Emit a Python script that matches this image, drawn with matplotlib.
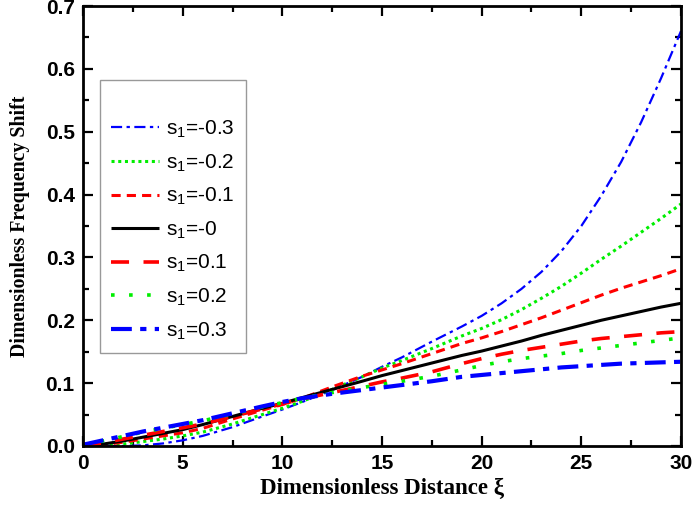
import numpy as np
import matplotlib
matplotlib.use('Agg')
import matplotlib.pyplot as plt

plt.rcParams['font.family'] = ['Liberation Sans', 'DejaVu Sans']
plt.rcParams['mathtext.default'] = 'regular'

# Curves (xi, frequency shift)
XI = [0, 1, 2, 3, 4, 5, 6, 7.5, 9, 10, 11, 12.5, 14, 15, 16, 17.5, 19, 20,
      21, 22, 23, 24, 25, 26, 27, 28, 29, 30]

Y_M03 = [0, 0, 0, 0.001, 0.004, 0.009, 0.016, 0.030, 0.047, 0.058, 0.070, 0.089, 0.110, 0.126,
         0.141, 0.166, 0.190, 0.207, 0.227, 0.250, 0.277, 0.310, 0.350, 0.398, 0.452, 0.515, 0.585, 0.660]
Y_M02 = [0, 0, 0.003, 0.007, 0.011, 0.016, 0.022, 0.035, 0.050, 0.060, 0.071, 0.090, 0.110, 0.124,
         0.136, 0.155, 0.175, 0.187, 0.201, 0.217, 0.235, 0.254, 0.275, 0.297, 0.318, 0.340, 0.362, 0.385]
Y_M01 = [0, 0.002, 0.006, 0.011, 0.016, 0.021, 0.028, 0.043, 0.057, 0.066, 0.076, 0.094, 0.111, 0.121,
         0.131, 0.147, 0.163, 0.172, 0.182, 0.193, 0.204, 0.216, 0.228, 0.240, 0.251, 0.261, 0.271, 0.282]
Y_0 = [0, 0.003, 0.008, 0.014, 0.020, 0.026, 0.034, 0.047, 0.060, 0.068, 0.077, 0.090, 0.103, 0.112,
       0.120, 0.132, 0.144, 0.151, 0.159, 0.167, 0.176, 0.184, 0.192, 0.200, 0.207, 0.214, 0.221, 0.227]
Y_P01 = [0, 0.005, 0.011, 0.017, 0.023, 0.029, 0.035, 0.047, 0.059, 0.067, 0.075, 0.085, 0.095, 0.102,
         0.108, 0.118, 0.131, 0.139, 0.146, 0.152, 0.157, 0.162, 0.167, 0.171, 0.174, 0.177, 0.180, 0.182]
Y_P02 = [0.001, 0.008, 0.015, 0.022, 0.028, 0.034, 0.040, 0.051, 0.062, 0.069, 0.076, 0.085, 0.093, 0.098,
         0.103, 0.111, 0.121, 0.128, 0.134, 0.139, 0.143, 0.147, 0.152, 0.156, 0.160, 0.164, 0.168, 0.172]
Y_P03 = [0.002, 0.009, 0.016, 0.023, 0.029, 0.035, 0.041, 0.052, 0.063, 0.070, 0.076, 0.083, 0.089, 0.093,
         0.097, 0.103, 0.110, 0.113, 0.116, 0.119, 0.122, 0.125, 0.127, 0.129, 0.131, 0.132, 0.133, 0.134]

LABELS = ['s$_1$=-0.3', 's$_1$=-0.2', 's$_1$=-0.1', 's$_1$=-0', 's$_1$=0.1', 's$_1$=0.2', 's$_1$=0.3']
SERIES = [Y_M03, Y_M02, Y_M01, Y_0, Y_P01, Y_P02, Y_P03]

# colour, linewidth, dash pattern (None = solid)
STYLES = [
    ('#0000FF', 1.6, (5, 2, 1.5, 2)),
    ('#00EE00', 2.2, (1, 1.2)),
    ('#FF0000', 2.2, (3, 2)),
    ('#000000', 2.2, None),
    ('#FF0000', 2.6, (5, 4)),
    ('#00EE00', 2.6, (1, 4)),
    ('#0000FF', 3.0, (5, 2, 1.5, 2)),
]

fig = plt.figure(figsize=(6.96, 5.09), dpi=100)
ax = fig.add_axes([0.1193, 0.1238, 0.8591, 0.8644])

for ys, lab, (c, lw, ds) in zip(SERIES, LABELS, STYLES):
    line, = ax.plot(XI, ys, color=c, lw=lw, label=lab, solid_capstyle='butt')
    if ds is not None:
        line.set_dashes(ds)

ax.set_xlim(0, 30)
ax.set_ylim(0, 0.7)
ax.set_xticks(np.arange(0, 31, 5))
ax.set_xticks(np.arange(0, 31, 2.5), minor=True)
ax.set_yticks(np.arange(0, 0.71, 0.1))
ax.set_yticks(np.arange(0, 0.71, 0.05), minor=True)
ax.set_xticklabels([f'{v:d}' for v in range(0, 31, 5)])
ax.set_yticklabels([f'{v:.1f}' for v in np.arange(0, 0.71, 0.1)])

ax.tick_params(which='both', direction='in', top=True, right=True, width=1.6)
ax.tick_params(which='major', length=7, labelsize=15, pad=6)
ax.tick_params(which='minor', length=4)
for lbl in ax.get_xticklabels() + ax.get_yticklabels():
    lbl.set_fontweight('bold')
for sp in ax.spines.values():
    sp.set_linewidth(2)

ax.set_xlabel('Dimensionless Distance ξ', family='Liberation Serif', fontweight='bold', fontsize=16.5, labelpad=3)
ax.set_ylabel('Dimensionless Frequency Shift', family='Liberation Serif', fontweight='bold', fontsize=14.3, labelpad=11)

leg = ax.legend(loc='upper left', bbox_to_anchor=(0.0284, 0.832), borderaxespad=0, fontsize=15,
                frameon=True, fancybox=False, edgecolor='#808080', handlelength=2.3, handletextpad=0.33,
                labelspacing=0.59, borderpad=0.55, title=' ', title_fontsize=12)
leg.get_frame().set_linewidth(1.0)

plt.savefig('out.png', dpi=100)
